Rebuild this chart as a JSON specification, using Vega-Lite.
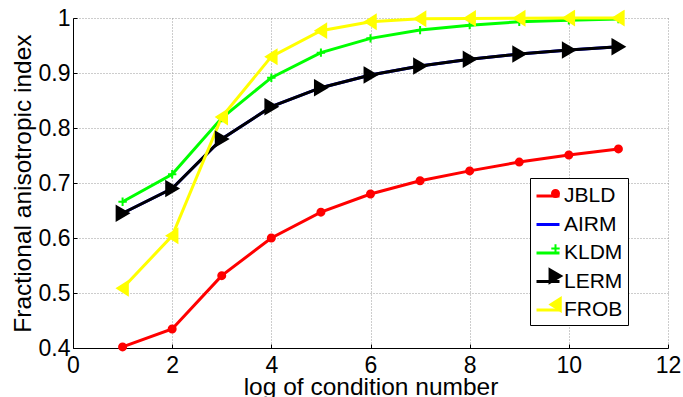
{
  "$schema": "https://vega.github.io/schema/vega-lite/v6.json",
  "width": 595,
  "height": 330,
  "autosize": {"type": "none"},
  "padding": {"left": 73, "top": 18, "right": 15, "bottom": 49},
  "background": "white",
  "config": {
    "view": {"stroke": null},
    "font": "Liberation Sans",
    "axis": {
      "labelFont": "Liberation Sans",
      "titleFont": "Liberation Sans",
      "labelColor": "black",
      "titleColor": "black",
      "domainColor": "black",
      "tickColor": "black",
      "domainWidth": 1,
      "tickWidth": 1,
      "tickSize": -4,
      "gridColor": "#9a9a9a",
      "gridDash": [1, 2],
      "gridWidth": 1,
      "labelFontSize": 23,
      "titleFontSize": 24.5,
      "titleFontWeight": "normal",
      "labelFlush": false,
      "labelOverlap": false
    },
    "legend": {"labelFont": "Liberation Sans"}
  },
  "data": {
    "values": [
      {"method": "JBLD", "x": 1, "y": 0.402},
      {"method": "JBLD", "x": 2, "y": 0.4345},
      {"method": "JBLD", "x": 3, "y": 0.5315},
      {"method": "JBLD", "x": 4, "y": 0.600},
      {"method": "JBLD", "x": 5, "y": 0.647},
      {"method": "JBLD", "x": 6, "y": 0.680},
      {"method": "JBLD", "x": 7, "y": 0.704},
      {"method": "JBLD", "x": 8, "y": 0.722},
      {"method": "JBLD", "x": 9, "y": 0.738},
      {"method": "JBLD", "x": 10, "y": 0.751},
      {"method": "JBLD", "x": 11, "y": 0.762},
      {"method": "AIRM", "x": 1, "y": 0.645},
      {"method": "AIRM", "x": 2, "y": 0.690},
      {"method": "AIRM", "x": 3, "y": 0.780},
      {"method": "AIRM", "x": 4, "y": 0.8387},
      {"method": "AIRM", "x": 5, "y": 0.8733},
      {"method": "AIRM", "x": 6, "y": 0.8964},
      {"method": "AIRM", "x": 7, "y": 0.9127},
      {"method": "AIRM", "x": 8, "y": 0.9249},
      {"method": "AIRM", "x": 9, "y": 0.9345},
      {"method": "AIRM", "x": 10, "y": 0.9418},
      {"method": "AIRM", "x": 11, "y": 0.9478},
      {"method": "KLDM", "x": 1, "y": 0.666},
      {"method": "KLDM", "x": 2, "y": 0.716},
      {"method": "KLDM", "x": 3, "y": 0.818},
      {"method": "KLDM", "x": 4, "y": 0.8915},
      {"method": "KLDM", "x": 5, "y": 0.937},
      {"method": "KLDM", "x": 6, "y": 0.963},
      {"method": "KLDM", "x": 7, "y": 0.978},
      {"method": "KLDM", "x": 8, "y": 0.987},
      {"method": "KLDM", "x": 9, "y": 0.993},
      {"method": "KLDM", "x": 10, "y": 0.996},
      {"method": "KLDM", "x": 11, "y": 0.998},
      {"method": "LERM", "x": 1, "y": 0.645},
      {"method": "LERM", "x": 2, "y": 0.690},
      {"method": "LERM", "x": 3, "y": 0.780},
      {"method": "LERM", "x": 4, "y": 0.8387},
      {"method": "LERM", "x": 5, "y": 0.8733},
      {"method": "LERM", "x": 6, "y": 0.8964},
      {"method": "LERM", "x": 7, "y": 0.9127},
      {"method": "LERM", "x": 8, "y": 0.9249},
      {"method": "LERM", "x": 9, "y": 0.9345},
      {"method": "LERM", "x": 10, "y": 0.9418},
      {"method": "LERM", "x": 11, "y": 0.9478},
      {"method": "FROB", "x": 1, "y": 0.5085},
      {"method": "FROB", "x": 2, "y": 0.604},
      {"method": "FROB", "x": 3, "y": 0.820},
      {"method": "FROB", "x": 4, "y": 0.9297},
      {"method": "FROB", "x": 5, "y": 0.977},
      {"method": "FROB", "x": 6, "y": 0.9933},
      {"method": "FROB", "x": 7, "y": 0.9985},
      {"method": "FROB", "x": 8, "y": 0.9993},
      {"method": "FROB", "x": 9, "y": 0.9996},
      {"method": "FROB", "x": 10, "y": 0.9998},
      {"method": "FROB", "x": 11, "y": 0.9998}
    ]
  },
  "encoding": {
    "x": {
      "field": "x",
      "type": "quantitative",
      "scale": {"domain": [0, 12], "nice": false, "zero": false},
      "axis": {
        "values": [0, 2, 4, 6, 8, 10, 12],
        "format": "~g",
        "labelPadding": 10,
        "title": "log of condition number",
        "titleBaseline": "alphabetic",
        "titleY": 46
      }
    },
    "y": {
      "field": "y",
      "type": "quantitative",
      "scale": {"domain": [0.4, 1], "nice": false, "zero": false},
      "axis": {
        "values": [0.4, 0.5, 0.6, 0.7, 0.8, 0.9, 1],
        "format": "~g",
        "labelPadding": 7,
        "title": "Fractional anisotropic index",
        "titleBaseline": "alphabetic",
        "titleAngle": -90,
        "titleX": -43,
        "titleY": 165
      }
    }
  },
  "layer": [
    {
      "mark": {"type": "line", "strokeWidth": 3},
      "encoding": {
        "color": {
          "field": "method",
          "type": "nominal",
          "scale": {
            "domain": ["JBLD", "AIRM", "KLDM", "LERM", "FROB"],
            "range": ["#ff0000", "#0000ff", "#00ff00", "#000000", "#ffff00"]
          },
          "legend": {
            "orient": "none",
            "legendX": 457,
            "legendY": 160,
            "title": null,
            "symbolType": "stroke",
            "symbolSize": 529,
            "symbolStrokeWidth": 3,
            "labelFontSize": 21,
            "labelColor": "black",
            "labelOffset": 3,
            "rowPadding": 5.5,
            "padding": 5,
            "fillColor": "white",
            "strokeColor": "black",
            "zindex": 1
          }
        }
      }
    },
    {
      "mark": {"type": "point", "filled": true, "size": 196, "strokeWidth": 2, "opacity": 1},
      "encoding": {
        "shape": {
          "field": "method",
          "type": "nominal",
          "scale": {
            "domain": ["JBLD", "AIRM", "KLDM", "LERM", "FROB", "_"],
            "range": [
              "M-0.5,0A0.5,0.5,0,1,0,0.5,0A0.5,0.5,0,1,0,-0.5,0Z",
              "M0,0",
              "M-0.6,0H0.6M0,-0.6V0.6",
              "M-0.85,-1L0.85,0L-0.85,1Z",
              "M0.75,-0.95L-0.75,0L0.75,0.95Z",
              "M0,0"
            ]
          },
          "legend": {
            "orient": "none",
            "legendX": 467,
            "legendY": 160,
            "title": null,
            "symbolSize": 196,
            "symbolStrokeWidth": 2,
            "labelFontSize": 21,
            "labelExpr": "''",
            "labelOffset": 3,
            "rowPadding": 5.5,
            "padding": 5,
            "zindex": 2
          }
        },
        "fill": {
          "field": "method",
          "type": "nominal",
          "scale": {
            "domain": ["JBLD", "AIRM", "KLDM", "LERM", "FROB", "_"],
            "range": ["#ff0000", "transparent", "#00ff00", "#000000", "#ffff00", "transparent"]
          }
        },
        "stroke": {
          "field": "method",
          "type": "nominal",
          "scale": {
            "domain": ["JBLD", "AIRM", "KLDM", "LERM", "FROB", "_"],
            "range": ["#ff0000", "transparent", "#00ff00", "#000000", "#ffff00", "transparent"]
          }
        }
      }
    }
  ]
}
